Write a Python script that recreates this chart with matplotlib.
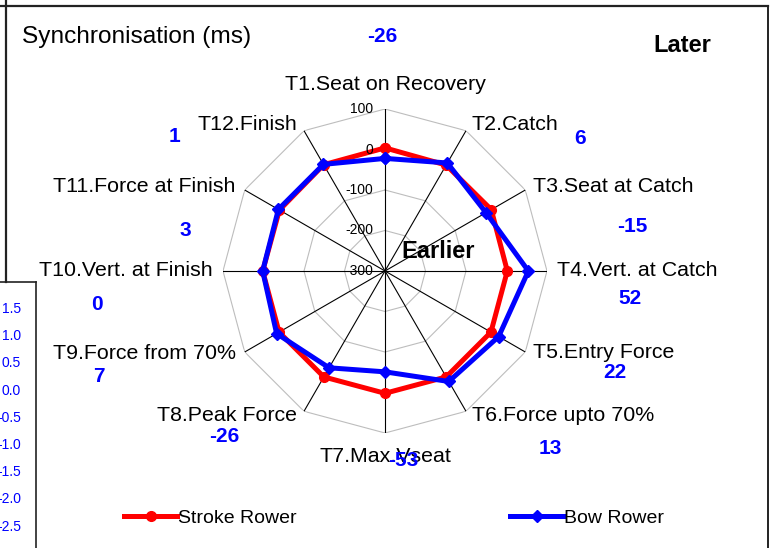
import numpy as np
import matplotlib
matplotlib.use('Agg')
import matplotlib.pyplot as plt
from matplotlib.lines import Line2D
from matplotlib import transforms

plt.rcParams['font.family'] = ['Liberation Sans', 'DejaVu Sans']

# 数据
categories = ['T1.Seat on Recovery', 'T2.Catch', 'T3.Seat at Catch', 'T4.Vert. at Catch',
              'T5.Entry Force', 'T6.Force upto 70%', 'T7.Max.Vseat', 'T8.Peak Force',
              'T9.Force from 70%', 'T10.Vert. at Finish', 'T11.Force at Finish', 'T12.Finish']
stroke = [4, 2, 3, 2, 2, 2, 2, 2, 2, 2, 1, 3]
bow = [-22, 8, -12, 54, 24, 15, -51, -24, 9, 2, 4, 4]
diffs = [-26, 6, -15, 52, 22, 13, -53, -26, 7, 0, 3, 1]
r_ticks = [100, 0, -100, -200, -300]
side_ticks = ['1.5', '1.0', '0.5', '0.0', '-0.5', '-1.0', '-1.5', '-2.0', '-2.5']

W, H = 775, 548
fig = plt.figure(figsize=(W / 100, H / 100), dpi=100)


def fx(x):
    return x / W


def fy(y):
    return 1 - y / H


# 雷达图坐标轴：中心 (385, 271)，半径 162 像素
cx, cy, R = 385, 271, 162
ax = fig.add_axes([fx(cx - R), fy(cy + R), 2 * R / W, 2 * R / H], projection='polar')
ax.set_theta_zero_location('N')
ax.set_theta_direction(-1)
ax.set_ylim(-300, 100)
ax.grid(False)
ax.spines['polar'].set_visible(False)
ax.set_xticks([])
ax.set_yticks([])
ax.patch.set_alpha(0)

n = len(categories)
theta = np.arange(n) * 2 * np.pi / n
theta_c = np.append(theta, theta[0])

# 多边形网格
for v in r_ticks[:-1]:
    ax.plot(theta_c, [v] * (n + 1), color='#bdbdbd', lw=0.8, zorder=1)
for t in theta:
    ax.plot([t, t], [-300, 100], color='black', lw=0.8, zorder=2)

# 数据线
ax.plot(theta_c, stroke + stroke[:1], color='red', lw=3.6, marker='o', ms=7,
        label='Stroke Rower', zorder=4, clip_on=False)
ax.plot(theta_c, bow + bow[:1], color='blue', lw=3.6, marker='D', ms=6,
        label='Bow Rower', zorder=5, clip_on=False)

# 径向刻度标签
tr = transforms.offset_copy(ax.transData, fig=fig, x=-12, y=0, units='dots')
for v in r_ticks:
    ax.text(0, v, str(v), transform=tr, ha='right', va='center', fontsize=10, zorder=6)

# 类别标签
label_offsets = [(0, 25, 'center'), (6, 6, 'left'), (8, 3, 'left'), (10, 0, 'left'),
                 (8, -1, 'left'), (6, -4, 'left'), (0, -24, 'center'), (-7, -4, 'right'),
                 (-9, -1, 'right'), (-10, 0, 'right'), (-9, 3, 'right'), (-7, 6, 'right')]
for t, lab, (dx, dy, ha) in zip(theta, categories, label_offsets):
    trl = transforms.offset_copy(ax.transData, fig=fig, x=dx, y=dy, units='dots')
    ax.text(t, 100, lab, transform=trl, ha=ha, va='center', fontsize=15.4, zorder=6)

# 差值标注（蓝色粗体）
diff_pos = [(382, 36), (580, 138), (632, 226), (630, 299), (615, 372), (550, 448),
            (403, 461), (224, 436), (99, 377), (97, 305), (185, 230), (175, 137)]
for d, (x, y) in zip(diffs, diff_pos):
    fig.text(fx(x), fy(y), str(d), color='blue', fontsize=15, fontweight='bold',
             ha='center', va='center', zorder=10)

# 标题与说明文字
fig.text(fx(22), fy(37), 'Synchronisation (ms)', fontsize=17.6, ha='left', va='center')
fig.text(fx(682), fy(46), 'Later', fontsize=17, fontweight='bold', ha='center', va='center')
fig.text(fx(438), fy(251), 'Earlier', fontsize=17, fontweight='bold', ha='center', va='center',
         zorder=10)

# 图例
fig.legend(loc='center', bbox_to_anchor=(fx(394), fy(518)), ncol=2, frameon=False,
           fontsize=14, handlelength=2.7, handletextpad=0.05, columnspacing=11.0)

# 边框
fig.add_artist(Line2D([0, fx(768)], [fy(6), fy(6)], color='#222222', lw=1.6))
fig.add_artist(Line2D([fx(768), fx(768)], [fy(6), 0], color='#222222', lw=1.4))
fig.add_artist(Line2D([fx(6), fx(6)], [1, fy(282)], color='#222222', lw=1.6))
fig.add_artist(Line2D([0, fx(36)], [fy(282), fy(282)], color='#222222', lw=1.2))
fig.add_artist(Line2D([fx(36), fx(36)], [fy(282), 0], color='#222222', lw=1.2))

# 左侧被截断的坐标轴标签
for i, s in enumerate(side_ticks):
    fig.text(fx(21), fy(309 + i * 27.2), s, color='blue', fontsize=10, ha='right', va='center')

fig.savefig('out.png', dpi=100)
